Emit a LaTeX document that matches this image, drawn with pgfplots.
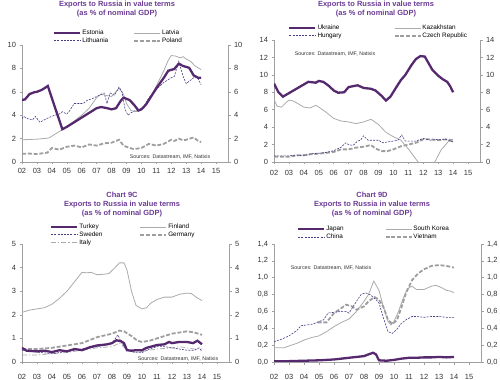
\documentclass[border=0pt]{standalone}
\usepackage{fontspec}
\setmainfont{Liberation Sans}
\usepackage{pgfplots}
\pgfplotsset{compat=1.18}
\definecolor{tpurple}{HTML}{6B3A94}
\definecolor{dpurple}{HTML}{56296F}
\definecolor{npurple}{HTML}{4B3A85}
\definecolor{lgray}{HTML}{ABABAB}
\definecolor{dgray}{HTML}{9E9E9E}
\definecolor{axgray}{HTML}{A0A0A0}
\definecolor{txt}{HTML}{333333}
\tikzset{
 thickp/.style={dpurple, line width=2.3bp},
 thing/.style={lgray, line width=0.8bp},
 dashp/.style={npurple, line width=0.6bp, dash pattern=on 2bp off 1.2bp},
 dashg/.style={dgray, line width=1.8bp, dash pattern=on 4bp off 1.8bp},
 dashdotg/.style={lgray, line width=0.7bp, dash pattern=on 5bp off 2bp on 1.2bp off 2bp},
 ttl/.style={font=\bfseries\fontsize{7.5}{9}\selectfont, text=tpurple, align=center},
 src/.style={font=\fontsize{5.3}{6}\selectfont, text=txt},
}
\pgfplotsset{
 base/.style={scale only axis, anchor=south west, ymin=0, xmin=2002, xmax=2015.8,
   axis line style={axgray, line width=0.6bp, -},
   tick style={axgray, line width=0.5bp}, tick align=outside, major tick length=2.5bp,
   ticklabel style={font=\fontsize{7.5}{8}\selectfont, text=txt},
   /pgf/number format/assume math mode=true,
   xtick={2002,2003,...,2015},
   xticklabels={02,03,04,05,06,07,08,09,10,11,12,13,14,15}},
 mainax/.style={base, axis x line*=bottom, axis y line*=left,
   legend columns=2, legend cell align=left,
   legend image code/.code={\draw[##1] (0bp,0bp) -- (26bp,0bp);},
   legend style={draw=none, fill=none, font=\fontsize{6.4}{7}\selectfont, anchor=north west,
     inner sep=0pt, row sep=0pt, nodes={inner sep=1bp, text height=4.6bp, text depth=1.1bp}}},
 rightax/.style={base, hide x axis, axis y line*=right},
}
\begin{document}
\begin{tikzpicture}
\useasboundingbox (0,0) rectangle (500bp,380bp);
% ---------------- Panel 1
\node[ttl] at (117bp,370.5bp) {Exports to Russia in value terms\\(as \% of nominal GDP)};
\begin{axis}[mainax, at={(22bp,218bp)}, width=206bp, height=117bp, ymax=10, ytick={0,2,...,10},
  legend style={at={(0.150,1.137)}, /tikz/every even column/.append style={column sep=24bp}}]
\addplot[dashg, forget plot] coordinates {(2002.0,0.7)(2002.5,0.72)(2003.0,0.68)(2003.7,0.8)(2004.0,1.2)(2004.5,1.05)(2005.0,1.3)(2005.5,1.4)(2006.0,1.25)(2006.5,1.5)(2007.0,1.4)(2007.5,1.6)(2008.0,1.65)(2008.5,1.9)(2008.8,1.4)(2009.2,1.2)(2009.5,1.1)(2010.0,1.2)(2010.5,1.55)(2011.0,1.4)(2011.5,1.55)(2012.0,1.9)(2012.2,1.8)(2012.5,2.0)(2012.8,1.85)(2013.0,1.9)(2013.5,2.1)(2013.8,1.8)(2014.0,1.7)};
\addplot[thing, forget plot] coordinates {(2002.0,1.9)(2003.0,1.95)(2003.8,2.05)(2004.5,2.6)(2005.0,3.0)(2005.5,3.5)(2006.0,4.0)(2006.5,4.6)(2007.0,5.5)(2007.3,5.8)(2007.6,5.7)(2008.0,5.6)(2008.5,6.3)(2008.8,5.8)(2009.0,5.0)(2009.3,4.4)(2009.7,4.3)(2010.0,4.5)(2010.5,5.3)(2011.0,6.5)(2011.5,7.8)(2011.8,8.7)(2012.0,9.1)(2012.3,9.05)(2012.6,8.9)(2012.8,9.0)(2013.0,8.8)(2013.3,8.6)(2013.6,8.2)(2014.0,7.9)};
\addplot[dashp, forget plot] coordinates {(2002.0,3.7)(2002.1,3.9)(2002.4,3.7)(2002.7,3.6)(2002.9,3.9)(2003.2,3.4)(2003.5,3.6)(2003.8,3.8)(2004.2,4.0)(2004.5,4.1)(2004.7,4.3)(2005.0,4.1)(2005.2,4.4)(2005.5,5.0)(2005.8,5.0)(2006.1,5.0)(2006.4,5.3)(2006.7,5.4)(2007.0,5.6)(2007.5,5.9)(2007.7,5.0)(2007.9,5.9)(2008.2,5.7)(2008.5,6.4)(2008.7,6.0)(2008.9,4.5)(2009.1,4.0)(2009.3,4.2)(2009.6,4.4)(2009.9,4.5)(2010.2,4.8)(2010.5,5.5)(2011.0,6.2)(2011.5,6.8)(2012.0,7.2)(2012.2,7.3)(2012.5,8.6)(2012.8,7.3)(2013.0,6.7)(2013.3,7.0)(2013.6,7.3)(2013.8,7.1)(2014.0,6.6)};
\addplot[thickp, forget plot] coordinates {(2002.0,5.3)(2002.2,5.35)(2002.5,5.8)(2002.8,5.95)(2003.0,6.0)(2003.3,6.15)(2003.5,6.3)(2003.73,6.5)(2004.7,2.8)(2005.0,3.0)(2005.5,3.4)(2006.0,3.8)(2006.5,4.2)(2007.0,4.6)(2007.3,4.7)(2007.7,4.6)(2008.0,4.5)(2008.3,4.6)(2008.6,5.2)(2008.8,5.5)(2009.2,5.3)(2009.5,4.9)(2009.8,4.4)(2010.0,4.5)(2010.3,4.9)(2010.6,5.5)(2011.0,6.3)(2011.5,7.2)(2011.8,7.8)(2012.2,7.95)(2012.5,8.4)(2012.8,8.2)(2013.2,8.05)(2013.5,7.4)(2013.8,7.2)(2014.0,7.2)};
\addlegendimage{thickp}\addlegendentry{Estonia}
\addlegendimage{thing}\addlegendentry{Latvia}
\addlegendimage{dashp}\addlegendentry{Lithuania}
\addlegendimage{dashg}\addlegendentry{Poland}
\end{axis}
\begin{axis}[rightax, at={(22bp,218bp)}, width=206bp, height=117bp, ymax=10, ytick={0,2,...,10}]
\end{axis}
\node[src] at (170bp,223bp) {Sources: Datastream, IMF, Natixis};
% ---------------- Panel 2
\node[ttl] at (376bp,370.5bp) {Exports to Russia in value terms\\(as \% of nominal GDP)};
\begin{axis}[mainax, at={(274bp,218bp)}, width=206bp, height=122bp, ymax=14, ytick={0,2,...,14},
  xticklabel style={yshift=-2bp},
  legend style={at={(0.068,1.131)}, /tikz/every even column/.append style={column sep=51bp}}]
\addplot[dashg, forget plot] coordinates {(2002.0,0.6)(2002.5,0.6)(2003.0,0.6)(2003.5,0.75)(2004.0,0.8)(2004.5,0.9)(2005.0,0.95)(2005.5,1.05)(2006.0,1.15)(2006.5,1.45)(2007.0,1.45)(2007.5,1.65)(2008.0,1.75)(2008.5,1.95)(2008.8,1.55)(2009.2,1.25)(2009.6,1.25)(2010.0,1.45)(2010.5,1.8)(2011.0,2.0)(2011.5,2.2)(2012.0,2.6)(2012.5,2.6)(2013.0,2.5)(2013.5,2.6)(2014.0,2.5)};
\addplot[thing, forget plot] coordinates {(2002.0,7.2)(2002.2,6.4)(2002.5,6.3)(2002.8,6.8)(2003.0,7.1)(2003.3,7.0)(2003.7,6.6)(2004.0,6.3)(2004.4,6.2)(2004.8,6.5)(2005.0,6.3)(2005.5,5.7)(2006.0,5.0)(2006.5,4.7)(2007.0,4.6)(2007.5,4.4)(2008.0,4.6)(2008.5,4.9)(2009.0,4.3)(2009.5,3.4)(2010.0,2.9)(2010.5,2.5)(2011.0,1.5)(2011.65,0)(2012.2,-1.5)(2012.77,0)(2013.2,1.4)(2013.7,2.4)(2014.0,2.3)};
\addplot[dashp, forget plot] coordinates {(2002.0,0.7)(2003.0,0.7)(2003.5,0.8)(2004.0,0.7)(2004.5,0.95)(2005.0,1.0)(2005.5,1.1)(2006.0,1.3)(2006.5,1.7)(2006.8,2.2)(2007.0,2.0)(2007.3,1.9)(2007.6,2.4)(2007.8,2.5)(2008.0,3.0)(2008.3,2.5)(2008.6,2.5)(2009.0,2.5)(2009.3,2.2)(2009.6,2.3)(2010.0,2.4)(2010.3,2.5)(2010.55,3.1)(2010.8,2.4)(2011.2,2.4)(2011.5,2.4)(2012.0,2.7)(2012.5,2.5)(2013.0,2.6)(2013.5,2.6)(2014.0,2.3)};
\addplot[thickp, forget plot] coordinates {(2002.0,9.0)(2002.3,8.0)(2002.6,7.5)(2003.0,7.9)(2003.5,8.4)(2004.0,8.9)(2004.3,9.2)(2004.8,9.1)(2005.0,9.3)(2005.3,9.2)(2005.7,8.7)(2006.0,8.2)(2006.3,7.95)(2006.7,8.0)(2007.0,8.6)(2007.3,8.7)(2007.6,8.8)(2008.0,8.5)(2008.5,8.4)(2008.8,8.2)(2009.2,7.6)(2009.5,7.05)(2009.8,7.5)(2010.2,8.6)(2010.5,9.4)(2010.8,10.0)(2011.2,11.1)(2011.5,11.8)(2011.8,12.15)(2012.1,12.1)(2012.3,11.5)(2012.6,10.6)(2013.0,9.9)(2013.3,9.5)(2013.6,9.2)(2013.8,8.7)(2014.0,8.0)};
\addlegendimage{thickp}\addlegendentry{Ukraine}
\addlegendimage{thing}\addlegendentry{Kazakhstan}
\addlegendimage{dashp}\addlegendentry{Hungary}
\addlegendimage{dashg}\addlegendentry{Czech Republic}
\end{axis}
\begin{axis}[rightax, at={(274bp,218bp)}, width=206bp, height=122bp, ymax=14, ytick={0,2,...,14}]
\end{axis}
\node[src] at (335bp,326bp) {Sources: Datastream, IMF, Natixis};
% ---------------- Panel 3
\node[ttl] at (122bp,175bp) {Chart 9C\\Exports to Russia in value terms\\(as \% of nominal GDP)};
\begin{axis}[mainax, at={(22bp,18bp)}, width=207bp, height=118bp, ymax=5, ytick={0,1,...,5},
  xticklabel style={yshift=-6bp},
  legend style={at={(0.135,1.178)}, /tikz/every even column/.append style={column sep=36bp}}]
\addplot[thing, forget plot] coordinates {(2002.0,2.1)(2002.5,2.2)(2003.0,2.25)(2003.5,2.3)(2004.0,2.45)(2004.5,2.7)(2005.0,3.0)(2005.5,3.4)(2006.0,3.8)(2006.3,3.78)(2006.6,3.8)(2007.0,3.7)(2007.5,3.72)(2007.8,3.75)(2008.2,4.0)(2008.5,4.2)(2008.8,4.2)(2009.0,3.9)(2009.3,3.0)(2009.6,2.4)(2010.0,2.25)(2010.3,2.3)(2010.6,2.5)(2011.0,2.65)(2011.5,2.75)(2012.0,2.75)(2012.5,2.87)(2013.0,2.92)(2013.3,2.9)(2013.6,2.75)(2014.0,2.6)};
\addplot[dashg, forget plot] coordinates {(2002.0,0.55)(2003.0,0.55)(2004.0,0.6)(2005.0,0.7)(2006.0,0.8)(2007.0,1.05)(2008.0,1.2)(2008.5,1.33)(2008.8,1.3)(2009.3,1.1)(2009.7,0.9)(2010.0,0.85)(2010.5,0.9)(2011.0,1.0)(2011.5,1.1)(2012.0,1.2)(2012.5,1.25)(2013.0,1.3)(2013.5,1.25)(2014.0,1.15)};
\addplot[dashdotg, forget plot] coordinates {(2002.0,0.3)(2003.0,0.3)(2004.0,0.35)(2005.0,0.4)(2006.0,0.5)(2007.0,0.6)(2008.0,0.65)(2008.5,0.8)(2009.0,0.5)(2009.5,0.4)(2010.0,0.45)(2010.5,0.5)(2011.0,0.55)(2012.0,0.6)(2012.5,0.65)(2013.0,0.6)(2013.5,0.55)(2014.0,0.55)};
\addplot[dashp, forget plot] coordinates {(2002.0,0.5)(2003.0,0.42)(2004.0,0.35)(2005.0,0.45)(2006.0,0.55)(2007.0,0.65)(2007.5,0.72)(2008.0,0.8)(2008.4,1.15)(2008.6,0.85)(2009.0,0.5)(2009.5,0.42)(2010.0,0.4)(2010.5,0.55)(2011.0,0.65)(2011.5,0.65)(2012.0,0.6)(2012.5,0.55)(2013.0,0.5)(2013.5,0.5)(2013.8,0.6)(2014.0,0.45)};
\addplot[thickp, forget plot] coordinates {(2002.0,0.6)(2002.3,0.48)(2003.0,0.45)(2003.5,0.48)(2004.0,0.42)(2004.5,0.5)(2005.0,0.45)(2005.5,0.55)(2006.0,0.5)(2006.5,0.62)(2007.0,0.7)(2007.3,0.72)(2007.7,0.75)(2008.0,0.8)(2008.3,0.92)(2008.6,0.88)(2008.8,0.8)(2009.0,0.5)(2009.3,0.48)(2009.6,0.5)(2010.0,0.5)(2010.3,0.6)(2010.6,0.65)(2011.0,0.72)(2011.5,0.75)(2011.8,0.85)(2012.0,0.8)(2012.5,0.85)(2013.0,0.85)(2013.4,0.8)(2013.7,0.9)(2014.0,0.75)};
\addlegendimage{thickp}\addlegendentry{Turkey}
\addlegendimage{thing}\addlegendentry{Finland}
\addlegendimage{dashp}\addlegendentry{Sweden}
\addlegendimage{dashg}\addlegendentry{Germany}
\addlegendimage{dashdotg}\addlegendentry{Italy}
\end{axis}
\begin{axis}[rightax, at={(22bp,18bp)}, width=207bp, height=118bp, ymax=5, ytick={0,1,...,5}]
\end{axis}
\node[src] at (178bp,21bp) {Sources: Datastream, IMF, Natixis};
% ---------------- Panel 4
\node[ttl] at (372bp,175bp) {Chart 9D\\Exports to Russia in value terms\\(as \% of nominal GDP)};
\begin{axis}[mainax, at={(274bp,18bp)}, width=207bp, height=118bp, ymax=1.4, ytick={0,0.2,...,1.4},
  yticklabels={{0,0},{0,2},{0,4},{0,6},{0,8},{1,0},{1,2},{1,4}},
  xticklabel style={yshift=-6bp},
  legend style={at={(0.11,1.16)}, /tikz/every even column/.append style={column sep=40bp}}]
\addplot[thing, forget plot] coordinates {(2002.0,0.17)(2002.7,0.17)(2003.0,0.19)(2003.5,0.22)(2004.0,0.26)(2004.5,0.29)(2005.0,0.31)(2005.5,0.36)(2006.0,0.42)(2006.5,0.47)(2007.0,0.51)(2007.5,0.6)(2008.0,0.72)(2008.3,0.8)(2008.65,0.96)(2009.0,0.85)(2009.3,0.65)(2009.6,0.48)(2009.8,0.44)(2010.0,0.48)(2010.3,0.6)(2010.6,0.75)(2010.9,0.87)(2011.2,0.9)(2011.5,0.86)(2012.0,0.86)(2012.5,0.9)(2012.8,0.91)(2013.2,0.88)(2013.5,0.85)(2013.8,0.84)(2014.0,0.82)};
\addplot[dashg, forget plot] coordinates {(2004.9,0.47)(2005.5,0.47)(2006.0,0.58)(2006.5,0.64)(2006.8,0.68)(2007.2,0.66)(2007.5,0.62)(2008.0,0.66)(2008.3,0.72)(2008.7,0.77)(2009.0,0.74)(2009.3,0.65)(2009.6,0.5)(2009.9,0.45)(2010.2,0.5)(2010.5,0.65)(2010.8,0.82)(2011.2,0.97)(2011.6,1.05)(2012.0,1.1)(2012.5,1.14)(2013.0,1.15)(2013.5,1.14)(2014.0,1.12)};
\addplot[dashp, forget plot] coordinates {(2002.0,0.24)(2002.5,0.27)(2003.0,0.31)(2003.5,0.37)(2003.8,0.43)(2004.2,0.44)(2004.6,0.45)(2005.0,0.48)(2005.3,0.5)(2005.6,0.58)(2006.0,0.59)(2006.5,0.6)(2006.8,0.6)(2007.0,0.58)(2007.5,0.72)(2007.8,0.8)(2008.1,0.82)(2008.4,0.8)(2008.8,0.74)(2009.0,0.7)(2009.3,0.52)(2009.6,0.36)(2009.9,0.34)(2010.2,0.39)(2010.5,0.46)(2010.8,0.5)(2011.2,0.54)(2011.5,0.54)(2012.0,0.53)(2012.5,0.54)(2013.0,0.54)(2013.5,0.53)(2014.0,0.53)};
\addplot[thickp, forget plot] coordinates {(2002.0,0.01)(2003.0,0.01)(2004.0,0.015)(2005.0,0.02)(2006.0,0.03)(2007.0,0.05)(2007.5,0.06)(2008.0,0.07)(2008.3,0.09)(2008.6,0.11)(2008.8,0.09)(2009.0,0.02)(2009.5,0.015)(2010.0,0.025)(2010.5,0.04)(2011.0,0.05)(2011.5,0.05)(2012.0,0.055)(2012.5,0.055)(2013.0,0.06)(2013.5,0.055)(2014.0,0.06)};
\addlegendimage{thickp}\addlegendentry{Japan}
\addlegendimage{thing}\addlegendentry{South Korea}
\addlegendimage{dashp}\addlegendentry{China}
\addlegendimage{dashg}\addlegendentry{Vietnam}
\end{axis}
\begin{axis}[rightax, at={(274bp,18bp)}, width=207bp, height=118bp, ymax=1.4, ytick={0,0.2,...,1.4},
  yticklabels={{0,0},{0,2},{0,4},{0,6},{0,8},{1,0},{1,2},{1,4}}]
\end{axis}
\node[src] at (331bp,112bp) {Sources: Datastream, IMF, Natixis};
\end{tikzpicture}
\end{document}
